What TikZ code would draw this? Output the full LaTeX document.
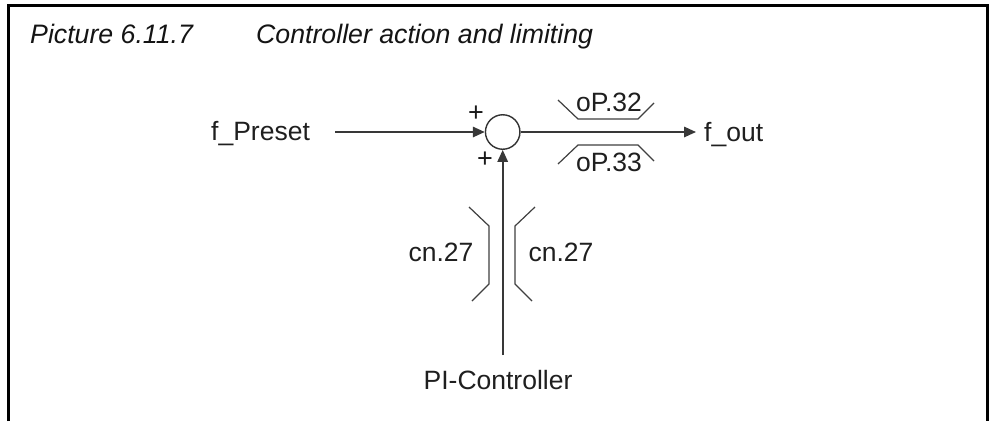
\documentclass[tikz,border=0pt]{standalone}
\usepackage{fontspec}
\setmainfont{Liberation Sans}
\usetikzlibrary{arrows.meta}
\tikzset{
  lbl/.style={inner sep=0pt,font=\fontsize{26.5}{30}\selectfont,text=black!88},
  ttl/.style={inner sep=0pt,anchor=base west,font=\fontsize{26.7}{30}\selectfont\itshape,text=black!92},
  plus/.style={inner sep=0pt,font=\fontsize{27}{30}\selectfont,text=black!90},
  wire/.style={line width=1.6pt,draw=black!78,-{Triangle[length=12pt,width=10.5pt]}},
  limiter/.style={line width=1.2pt,draw=black!75},
  frameline/.style={line width=3.4pt,draw=black}
}
\begin{document}
\begin{tikzpicture}[x=1pt,y=-1pt]
\useasboundingbox (0,0) rectangle (989,421);
\fill[white] (0,0) rectangle (989,421);
\draw[frameline] (8.5,421) -- (8.5,5.5) -- (988,5.5) -- (988,421);
\node[ttl] (t1) at (30,43) {Picture 6.11.7};
\node[ttl] (t2) at (256,43) {Controller action and limiting};
\node[draw=black!80,line width=1.4pt,circle,minimum size=34.5pt,inner sep=0pt] (sum) at (502.7,132) {};
\node[lbl,anchor=base west] (fp) at (211,140) {f\_Preset};
\node[lbl,anchor=base west] (fo) at (704,141) {f\_out};
\node[lbl,anchor=base] (pi) at (498,389) {PI-Controller};
\node[lbl,anchor=base] (op32) at (609,111) {oP.32};
\node[lbl,anchor=base] (op33) at (609,171) {oP.33};
\node[lbl,anchor=base] (cn1) at (441,261) {cn.27};
\node[lbl,anchor=base] (cn2) at (561,261) {cn.27};
\node[plus] (p1) at (476,114) {+};
\node[plus] (p2) at (485,160) {+};
\coordinate (fpe) at (335,132);
\coordinate (pie) at (502.7,355);
\coordinate (foe) at (696,132);
\draw[wire] (fpe) -- (sum.west);
\draw[wire] (pie) -- (sum.south);
\draw[wire] (sum.east) -- (foe);
\draw[limiter] (558,100) -- (578,119) -- (638,119) -- (654,103);
\draw[limiter] (558,164) -- (578,145) -- (638,145) -- (654,161);
\draw[limiter] (469,207) -- (489,226) -- (489,284) -- (472,301);
\draw[limiter] (535,207) -- (515,226) -- (515,284) -- (532,301);
\end{tikzpicture}
\end{document}
